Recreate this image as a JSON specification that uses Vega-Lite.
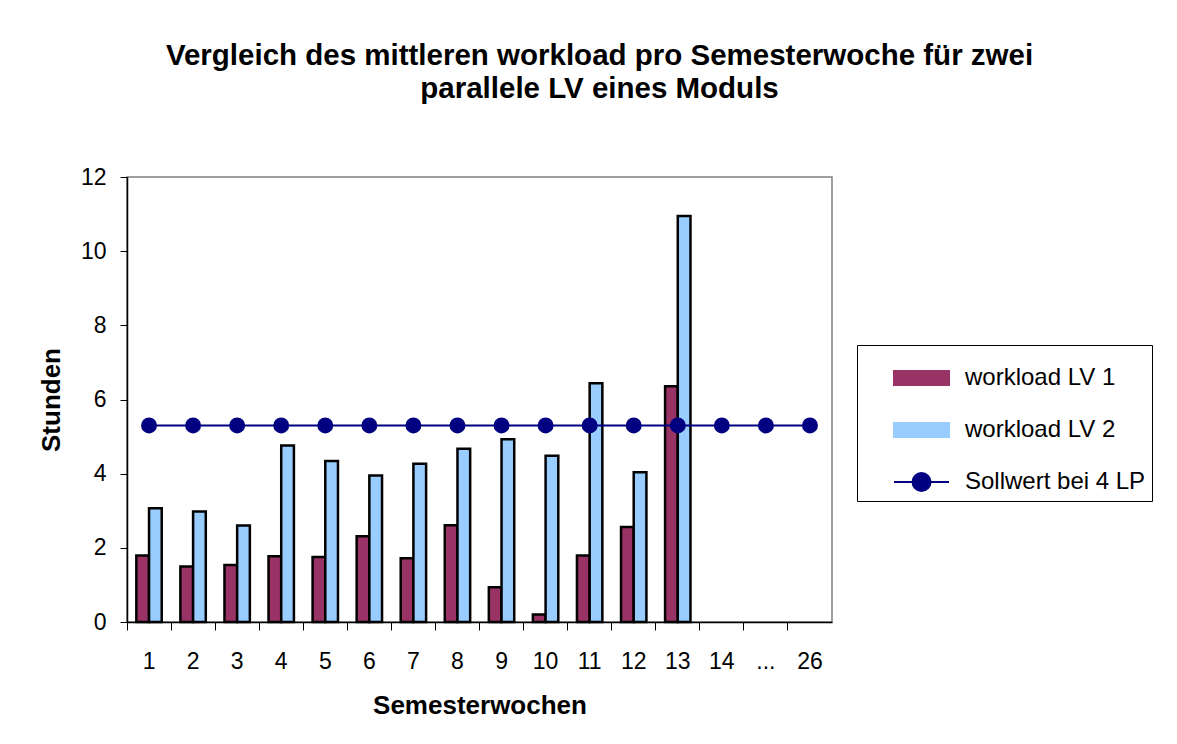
{
  "$schema": "https://vega.github.io/schema/vega-lite/v6.json",
  "width": 705,
  "height": 445,
  "autosize": {"type": "none"},
  "padding": {"left": 127, "top": 177, "right": 345, "bottom": 122},
  "background": "white",
  "config": {
    "font": "Liberation Sans",
    "view": {"stroke": "#808080", "strokeWidth": 1.5},
    "axis": {"grid": false, "domainColor": "black", "domainWidth": 1.5, "tickColor": "black", "tickWidth": 1, "labelColor": "black", "titleColor": "black", "labelFont": "Liberation Sans", "titleFont": "Liberation Sans", "labelFontSize": 23, "titleFontSize": 26, "titleFontWeight": "bold"}
  },
  "title": {
    "text": ["Vergleich des mittleren workload pro Semesterwoche für zwei", "parallele LV eines Moduls"],
    "fontSize": 29.5,
    "fontWeight": "bold",
    "font": "Liberation Sans",
    "color": "black",
    "lineHeight": 33,
    "anchor": "middle",
    "dx": 120,
    "offset": 62
  },
  "datasets": {
    "bars": [
      {"week": "1", "series": "workload LV 1", "value": 1.79},
      {"week": "1", "series": "workload LV 2", "value": 3.07},
      {"week": "2", "series": "workload LV 1", "value": 1.50},
      {"week": "2", "series": "workload LV 2", "value": 2.98},
      {"week": "3", "series": "workload LV 1", "value": 1.54},
      {"week": "3", "series": "workload LV 2", "value": 2.60},
      {"week": "4", "series": "workload LV 1", "value": 1.77},
      {"week": "4", "series": "workload LV 2", "value": 4.76},
      {"week": "5", "series": "workload LV 1", "value": 1.75},
      {"week": "5", "series": "workload LV 2", "value": 4.34},
      {"week": "6", "series": "workload LV 1", "value": 2.31},
      {"week": "6", "series": "workload LV 2", "value": 3.95},
      {"week": "7", "series": "workload LV 1", "value": 1.72},
      {"week": "7", "series": "workload LV 2", "value": 4.27},
      {"week": "8", "series": "workload LV 1", "value": 2.61},
      {"week": "8", "series": "workload LV 2", "value": 4.67},
      {"week": "9", "series": "workload LV 1", "value": 0.94},
      {"week": "9", "series": "workload LV 2", "value": 4.93},
      {"week": "10", "series": "workload LV 1", "value": 0.20},
      {"week": "10", "series": "workload LV 2", "value": 4.48},
      {"week": "11", "series": "workload LV 1", "value": 1.79},
      {"week": "11", "series": "workload LV 2", "value": 6.44},
      {"week": "12", "series": "workload LV 1", "value": 2.56},
      {"week": "12", "series": "workload LV 2", "value": 4.04},
      {"week": "13", "series": "workload LV 1", "value": 6.36},
      {"week": "13", "series": "workload LV 2", "value": 10.95}
    ],
    "soll": [
      {"week": "1", "series": "Sollwert bei 4 LP", "value": 5.3},
      {"week": "2", "series": "Sollwert bei 4 LP", "value": 5.3},
      {"week": "3", "series": "Sollwert bei 4 LP", "value": 5.3},
      {"week": "4", "series": "Sollwert bei 4 LP", "value": 5.3},
      {"week": "5", "series": "Sollwert bei 4 LP", "value": 5.3},
      {"week": "6", "series": "Sollwert bei 4 LP", "value": 5.3},
      {"week": "7", "series": "Sollwert bei 4 LP", "value": 5.3},
      {"week": "8", "series": "Sollwert bei 4 LP", "value": 5.3},
      {"week": "9", "series": "Sollwert bei 4 LP", "value": 5.3},
      {"week": "10", "series": "Sollwert bei 4 LP", "value": 5.3},
      {"week": "11", "series": "Sollwert bei 4 LP", "value": 5.3},
      {"week": "12", "series": "Sollwert bei 4 LP", "value": 5.3},
      {"week": "13", "series": "Sollwert bei 4 LP", "value": 5.3},
      {"week": "14", "series": "Sollwert bei 4 LP", "value": 5.3},
      {"week": "...", "series": "Sollwert bei 4 LP", "value": 5.3},
      {"week": "26", "series": "Sollwert bei 4 LP", "value": 5.3}
    ]
  },
  "encoding": {
    "x": {
      "field": "week",
      "type": "nominal",
      "sort": null,
      "scale": {"domain": ["1","2","3","4","5","6","7","8","9","10","11","12","13","14","...","26"], "paddingInner": 0, "paddingOuter": 0},
      "axis": {"title": "Semesterwochen", "labelAngle": 0, "bandPosition": 0, "tickSize": 8, "labelFontSize": 23, "labelPadding": 20, "titlePadding": 19}
    },
    "y": {
      "field": "value",
      "type": "quantitative",
      "scale": {"domain": [0, 12], "nice": false},
      "axis": {"title": "Stunden", "values": [0,2,4,6,8,10,12], "tickSize": 7, "labelFontSize": 23, "labelPadding": 14, "titlePadding": 16}
    },
    "color": {
      "field": "series",
      "type": "nominal",
      "scale": {"domain": ["workload LV 1", "workload LV 2", "Sollwert bei 4 LP"], "range": ["#993366", "#99CCFF", "#000080"]},
      "legend": {
        "title": null,
        "orient": "none",
        "legendX": 730,
        "legendY": 168,
        "padding": 6,
        "strokeColor": "black",
        "fillColor": "white",
        "labelFontSize": 24,
        "labelFont": "Liberation Sans",
        "labelColor": "black",
        "labelLimit": 400,
        "labelOffset": 48,
        "rowPadding": 13,
        "symbolSize": 2704,
        "symbolStrokeWidth": 2,
        "encode": {
          "symbols": {
            "update": {
              "shape": {"signal": "datum.value === 'Sollwert bei 4 LP' ? 'M0.154,0H2.27M0.866,0A0.346,0.346 0 1,0 1.558,0A0.346,0.346 0 1,0 0.866,0Z' : 'M0.154,-0.27H2.27V0.27H0.154Z'"},
              "fill": {"signal": "scale('color', datum.value)"},
              "stroke": {"signal": "datum.value === 'Sollwert bei 4 LP' ? '#000080' : 'black'"},
              "strokeWidth": {"value": 2},
              "size": {"value": 2704},
              "opacity": {"value": 1},
              "fillOpacity": {"value": 1},
              "strokeOpacity": {"value": 1}
            }
          }
        }
      }
    }
  },
  "layer": [
    {
      "data": {"name": "bars"},
      "mark": {"type": "bar", "stroke": "black", "strokeWidth": 2.5, "fillOpacity": 1, "strokeOpacity": 1},
      "encoding": {
        "stroke": {"value": "black"},
        "xOffset": {"field": "series", "type": "nominal", "scale": {"domain": ["workload LV 1", "workload LV 2"], "paddingInner": 0, "paddingOuter": 0.735}}
      }
    },
    {
      "data": {"name": "soll"},
      "mark": {"type": "line", "strokeWidth": 2, "point": {"filled": true, "size": 254, "opacity": 1}},
      "encoding": {}
    }
  ]
}
